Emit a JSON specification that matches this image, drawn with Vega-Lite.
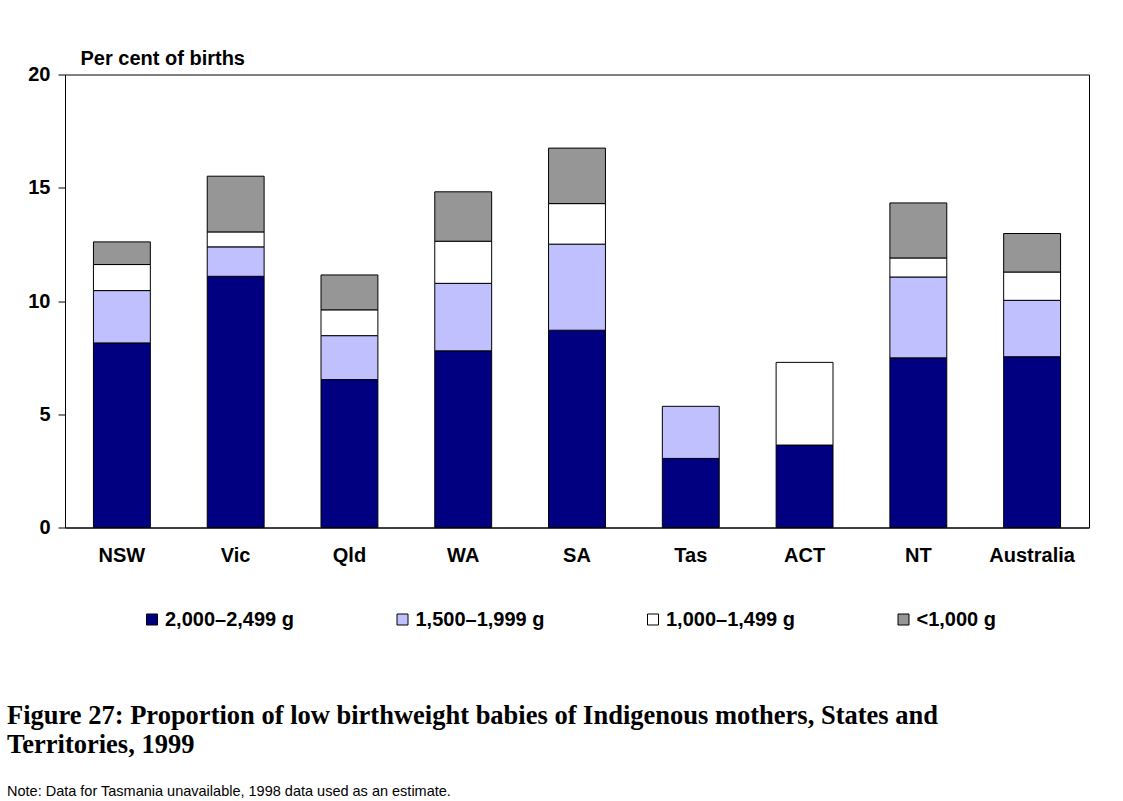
{
  "$schema": "https://vega.github.io/schema/vega-lite/v6.json",
  "width": 1024,
  "height": 453,
  "autosize": {"type": "none"},
  "padding": {"left": 65, "top": 74.5, "right": 34, "bottom": 273.5},
  "background": "white",
  "title": {
    "text": ["Figure 27: Proportion of low birthweight babies of Indigenous mothers, States and", "Territories, 1999"],
    "subtitle": "Note: Data for Tasmania unavailable, 1998 data used as an estimate.",
    "orient": "bottom",
    "anchor": "start",
    "frame": "group",
    "dx": -58,
    "offset": 73,
    "font": "Liberation Serif",
    "fontSize": 26.5,
    "fontWeight": "bold",
    "lineHeight": 29,
    "color": "#000000",
    "subtitleFont": "Liberation Sans",
    "subtitleFontSize": 14.5,
    "subtitleColor": "#000000",
    "subtitlePadding": 27
  },
  "data": {
    "values": [
      {"state": "NSW", "cat": "2,000–2,499 g", "k": 1, "value": 8.15},
      {"state": "NSW", "cat": "1,500–1,999 g", "k": 2, "value": 2.31},
      {"state": "NSW", "cat": "1,000–1,499 g", "k": 3, "value": 1.15},
      {"state": "NSW", "cat": "<1,000 g", "k": 4, "value": 1.0},
      {"state": "Vic", "cat": "2,000–2,499 g", "k": 1, "value": 11.09},
      {"state": "Vic", "cat": "1,500–1,999 g", "k": 2, "value": 1.3},
      {"state": "Vic", "cat": "1,000–1,499 g", "k": 3, "value": 0.66},
      {"state": "Vic", "cat": "<1,000 g", "k": 4, "value": 2.46},
      {"state": "Qld", "cat": "2,000–2,499 g", "k": 1, "value": 6.53},
      {"state": "Qld", "cat": "1,500–1,999 g", "k": 2, "value": 1.94},
      {"state": "Qld", "cat": "1,000–1,499 g", "k": 3, "value": 1.14},
      {"state": "Qld", "cat": "<1,000 g", "k": 4, "value": 1.54},
      {"state": "WA", "cat": "2,000–2,499 g", "k": 1, "value": 7.8},
      {"state": "WA", "cat": "1,500–1,999 g", "k": 2, "value": 2.98},
      {"state": "WA", "cat": "1,000–1,499 g", "k": 3, "value": 1.86},
      {"state": "WA", "cat": "<1,000 g", "k": 4, "value": 2.18},
      {"state": "SA", "cat": "2,000–2,499 g", "k": 1, "value": 8.71},
      {"state": "SA", "cat": "1,500–1,999 g", "k": 2, "value": 3.8},
      {"state": "SA", "cat": "1,000–1,499 g", "k": 3, "value": 1.79},
      {"state": "SA", "cat": "<1,000 g", "k": 4, "value": 2.45},
      {"state": "Tas", "cat": "2,000–2,499 g", "k": 1, "value": 3.05},
      {"state": "Tas", "cat": "1,500–1,999 g", "k": 2, "value": 2.3},
      {"state": "ACT", "cat": "2,000–2,499 g", "k": 1, "value": 3.64},
      {"state": "ACT", "cat": "1,000–1,499 g", "k": 3, "value": 3.65},
      {"state": "NT", "cat": "2,000–2,499 g", "k": 1, "value": 7.49},
      {"state": "NT", "cat": "1,500–1,999 g", "k": 2, "value": 3.57},
      {"state": "NT", "cat": "1,000–1,499 g", "k": 3, "value": 0.84},
      {"state": "NT", "cat": "<1,000 g", "k": 4, "value": 2.43},
      {"state": "Australia", "cat": "2,000–2,499 g", "k": 1, "value": 7.54},
      {"state": "Australia", "cat": "1,500–1,999 g", "k": 2, "value": 2.49},
      {"state": "Australia", "cat": "1,000–1,499 g", "k": 3, "value": 1.25},
      {"state": "Australia", "cat": "<1,000 g", "k": 4, "value": 1.7}
    ]
  },
  "mark": {"type": "bar", "stroke": "#000000", "strokeWidth": 1},
  "encoding": {
    "x": {
      "field": "state",
      "type": "nominal",
      "sort": ["NSW", "Vic", "Qld", "WA", "SA", "Tas", "ACT", "NT", "Australia"],
      "scale": {"paddingInner": 0.5, "paddingOuter": 0.25},
      "axis": {
        "title": null,
        "labelAngle": 0,
        "ticks": false,
        "domain": true,
        "domainColor": "#000000",
        "labelFont": "Liberation Sans",
        "labelFontWeight": "bold",
        "labelFontSize": 20,
        "labelColor": "#000000",
        "labelPadding": 18
      }
    },
    "y": {
      "field": "value",
      "type": "quantitative",
      "stack": "zero",
      "scale": {"domain": [0, 20], "nice": false},
      "axis": {
        "values": [0, 5, 10, 15, 20],
        "grid": false,
        "tickSize": 7,
        "tickColor": "#000000",
        "domainColor": "#000000",
        "labelFont": "Liberation Sans",
        "labelFontWeight": "bold",
        "labelFontSize": 20,
        "labelColor": "#000000",
        "labelPadding": 8,
        "title": "Per cent of births",
        "titleAngle": 0,
        "titleAlign": "left",
        "titleBaseline": "alphabetic",
        "titleX": 15,
        "titleY": -10,
        "titleFont": "Liberation Sans",
        "titleFontWeight": "bold",
        "titleFontSize": 20,
        "titleColor": "#000000"
      }
    },
    "color": {
      "field": "cat",
      "type": "nominal",
      "scale": {
        "domain": ["2,000–2,499 g", "1,500–1,999 g", "1,000–1,499 g", "<1,000 g"],
        "range": ["#000080", "#C0C0FF", "#FFFFFF", "#969696"]
      },
      "legend": {
        "title": null,
        "orient": "none",
        "direction": "horizontal",
        "columns": 4,
        "gridAlign": "all",
        "legendX": 77,
        "legendY": 535,
        "padding": 0,
        "columnPadding": 98.5,
        "symbolType": "square",
        "symbolSize": 121,
        "symbolStrokeColor": "#000000",
        "symbolStrokeWidth": 1,
        "symbolOpacity": 1,
        "labelFont": "Liberation Sans",
        "labelFontWeight": "bold",
        "labelFontSize": 20,
        "labelColor": "#000000",
        "labelOffset": 3,
        "labelLimit": 300
      }
    },
    "order": {"field": "k", "type": "quantitative"}
  },
  "config": {
    "view": {"stroke": "#000000", "strokeWidth": 1}
  }
}
